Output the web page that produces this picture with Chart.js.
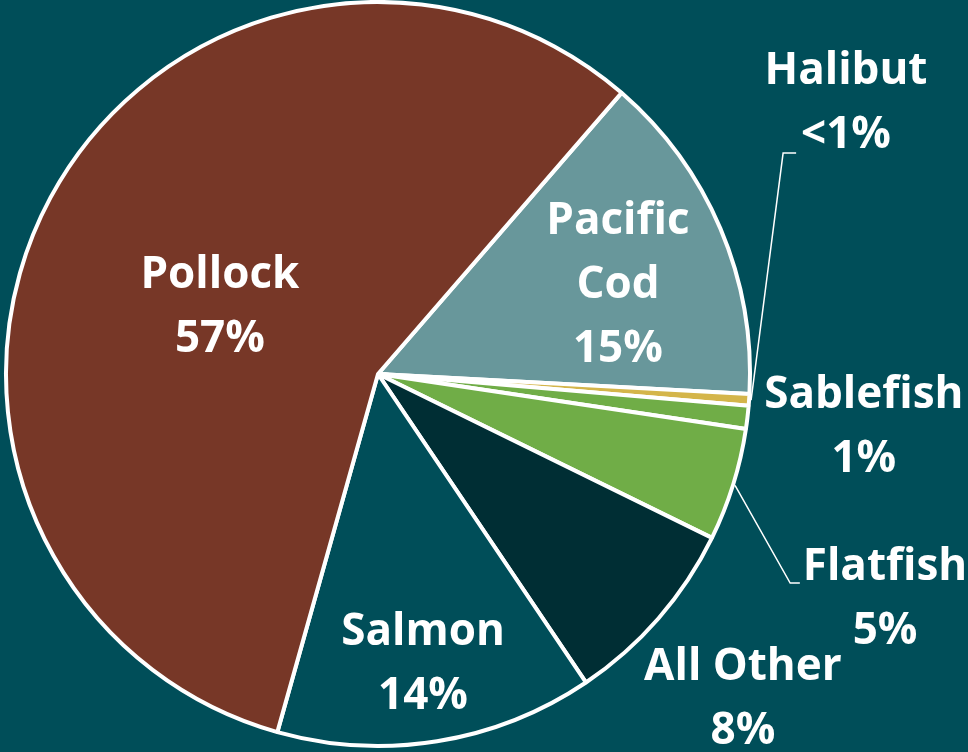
<!DOCTYPE html>
<html>
<head>
<meta charset="utf-8">
<script src="https://cdn.jsdelivr.net/npm/chart.js@4.4.1/dist/chart.umd.min.js"></script>
<style>
  html, body { margin: 0; padding: 0; background: #004e59; }
  canvas { display: block; }
</style>
</head>
<body>
<canvas id="myChart" width="968" height="752"></canvas>
<script>
// slices go clockwise starting at the Pollock / Pacific Cod boundary
const species = ['Pacific Cod', 'Halibut', 'Sablefish', 'Flatfish', 'All Other', 'Salmon', 'Pollock']
const shares = [14.5, 0.5, 1.0, 4.9, 8.3, 13.8, 57.0]
const sliceColors = ['#68979b', '#d4b54a', '#70ad47', '#70ad47', '#002e34', '#004e59', '#773727']

// label anchors, as offsets from the pie centre in units of the radius
const labelSpots = [
  { dx: 0.645, dy: -0.239 },
  { dx: 1.258, dy: -0.726, leader: [[1.089, -0.594], [1.124, -0.594]] },
  { dx: 1.306, dy: 0.145 },
  { dx: 1.363, dy: 0.605, leader: [[1.108, 0.562], [1.134, 0.562]] },
  { dx: 0.981, dy: 0.874 },
  { dx: 0.121, dy: 0.782 },
  { dx: -0.425, dy: -0.180 }
]

function pctText(v) {
  if (v < 1) return '<1%'
  return Math.round(v) + '%'
}

function nameLines(name) {
  if (name === 'Pacific Cod') return ['Pacific', 'Cod']
  return [name]
}

const pieLabels = {
  id: 'pieLabels',
  afterDraw(chart) {
    const ctx = chart.ctx
    const arcs = chart.getDatasetMeta(0).data
    ctx.save()
    ctx.fillStyle = '#ffffff'
    ctx.strokeStyle = '#ffffff'
    ctx.lineWidth = 1.5
    ctx.font = 'bold 44px "Open Sans"'
    ctx.textAlign = 'center'
    ctx.textBaseline = 'middle'
    arcs.forEach((arc, i) => {
      const R = arc.outerRadius
      const spot = labelSpots[i]
      if (spot.leader) {
        const mid = (arc.startAngle + arc.endAngle) / 2
        ctx.beginPath()
        ctx.moveTo(arc.x + Math.cos(mid) * (R + 2), arc.y + Math.sin(mid) * (R + 2))
        spot.leader.forEach(p => ctx.lineTo(arc.x + p[0] * R, arc.y + p[1] * R))
        ctx.stroke()
      }
      const lines = nameLines(species[i]).concat([pctText(shares[i])])
      const lh = 64
      const cx = arc.x + spot.dx * R
      const cy = arc.y + spot.dy * R
      lines.forEach((t, k) => {
        ctx.fillText(t, cx, cy + (k - (lines.length - 1) / 2) * lh)
      })
    })
    ctx.restore()
  }
}

const ctx = document.getElementById('myChart')
const myChart = new Chart(ctx, {
  type: 'pie',
  data: {
    labels: species,
    datasets: [{
      data: shares,
      backgroundColor: sliceColors,
      borderColor: '#ffffff',
      borderWidth: 4
    }]
  },
  options: {
    responsive: false,
    animation: false,
    rotation: 40.9,
    layout: { padding: { left: 4, top: 0, right: 216, bottom: 4 } },
    plugins: {
      legend: { display: false },
      tooltip: { enabled: false }
    }
  },
  plugins: [pieLabels]
})
</script>
</body>
</html>
